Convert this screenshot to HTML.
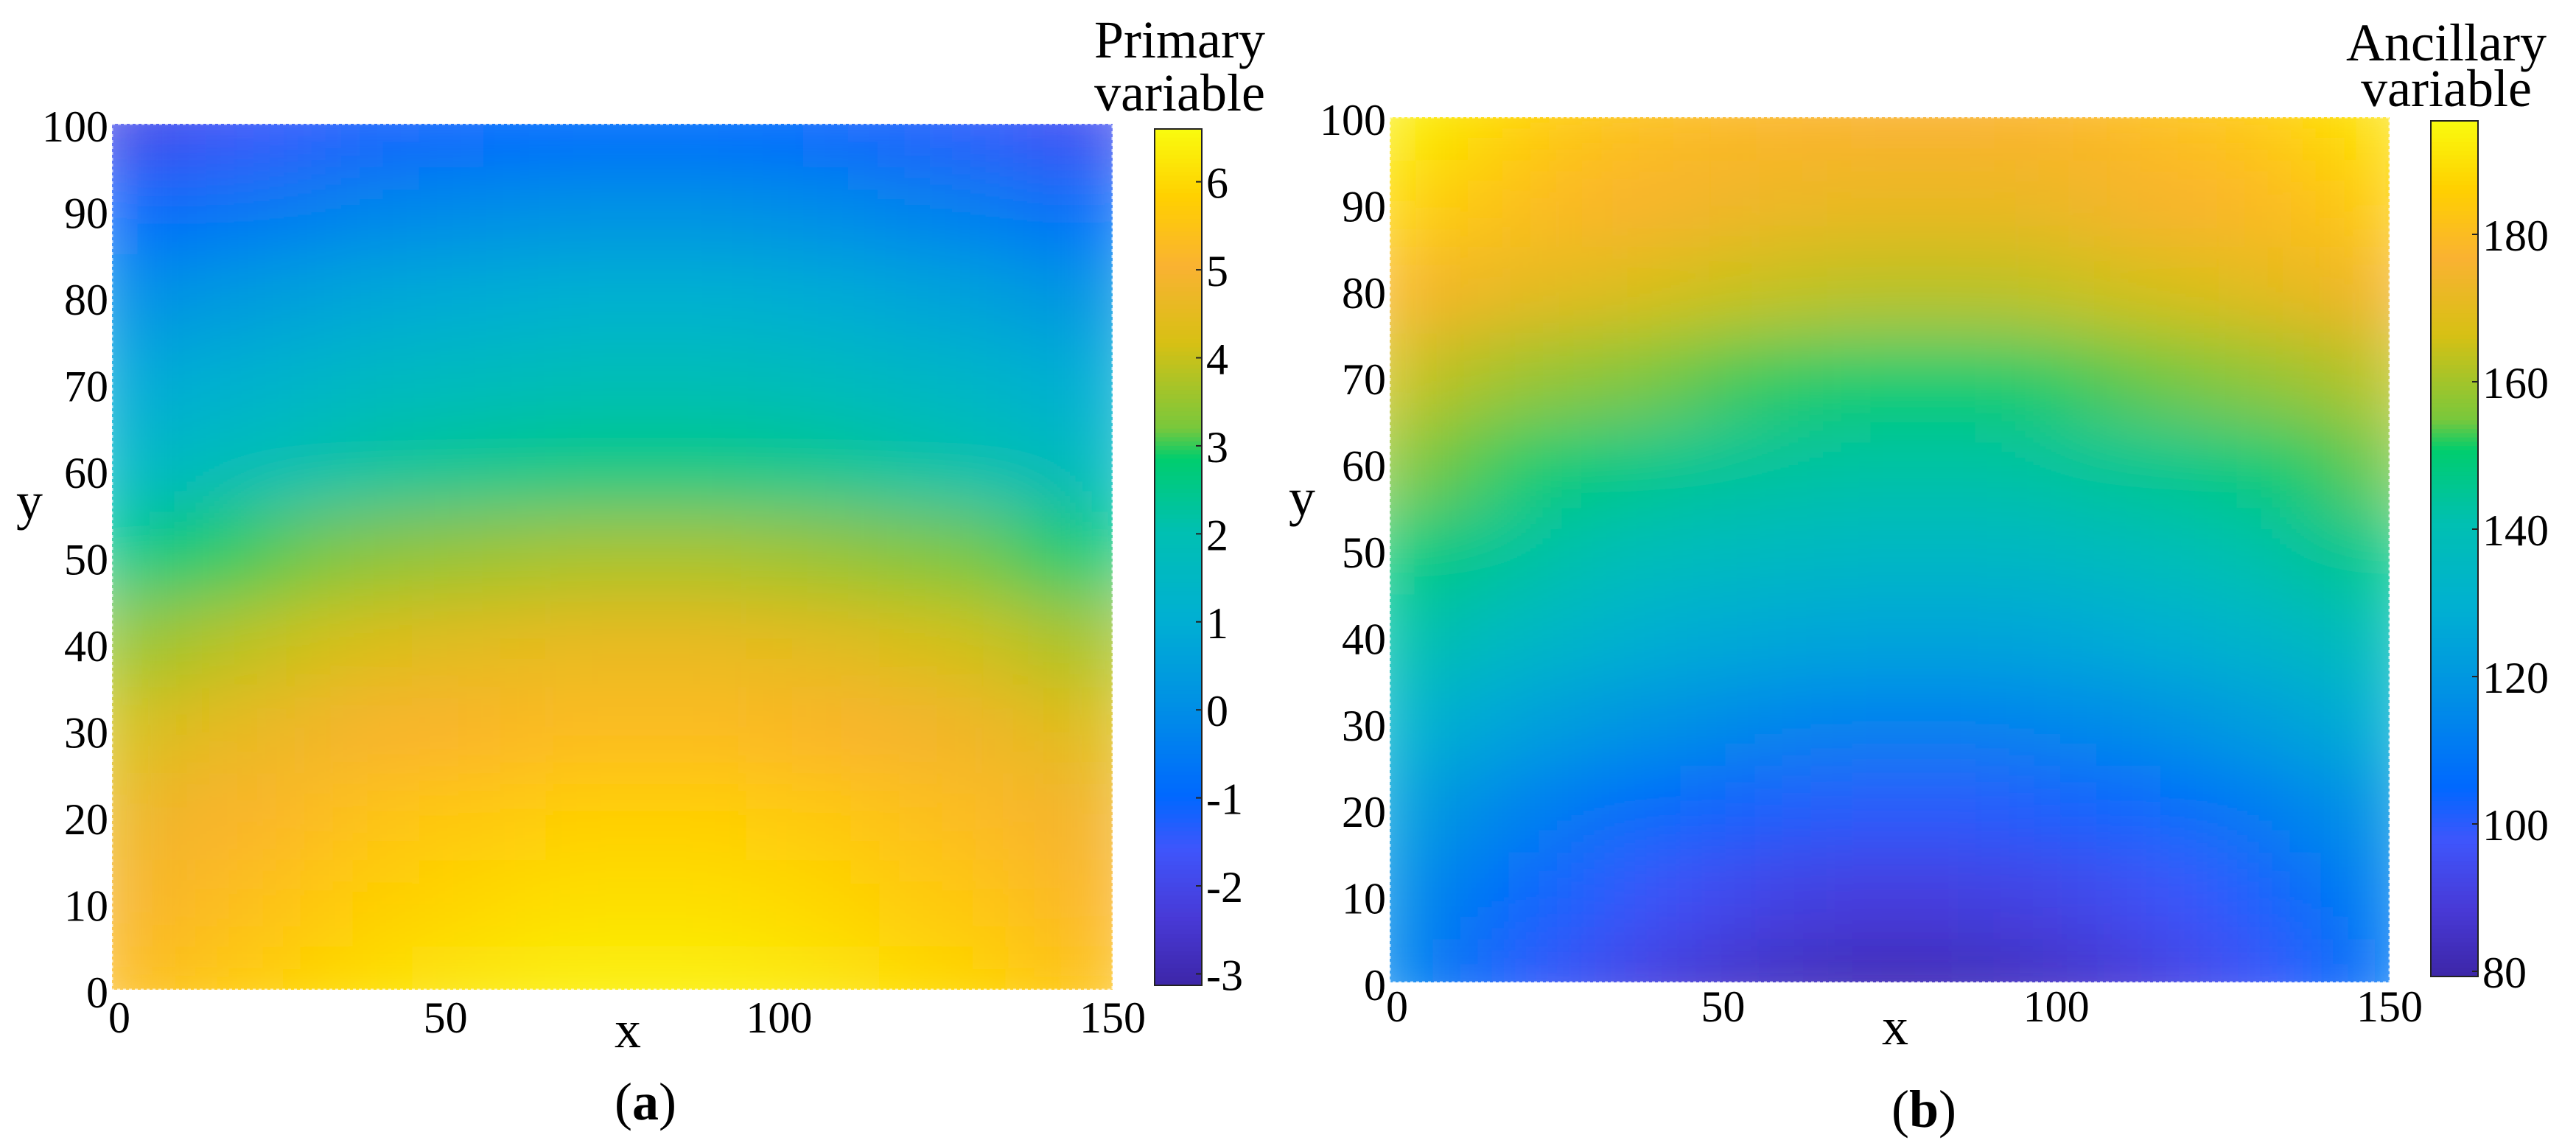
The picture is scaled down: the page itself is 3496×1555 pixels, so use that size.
<!DOCTYPE html>
<html><head><meta charset="utf-8">
<style>
html,body{margin:0;padding:0;background:#fff;}
svg{display:block;font-family:"Liberation Serif","DejaVu Serif",serif;}
</style></head>
<body>
<svg id="fig" width="3496" height="1555" viewBox="0 0 3496 1555" xmlns="http://www.w3.org/2000/svg">
<defs>
<filter id="smoothA" x="0" y="0" width="1" height="1" filterUnits="objectBoundingBox"><feGaussianBlur stdDeviation="58 46" edgeMode="duplicate"/></filter>
<filter id="smoothB" x="0" y="0" width="1" height="1" filterUnits="objectBoundingBox"><feGaussianBlur stdDeviation="58 46" edgeMode="duplicate"/></filter>
<clipPath id="clipA"><rect x="152" y="168" width="1358" height="1175"/></clipPath>
<clipPath id="clipB"><rect x="1886" y="159" width="1357" height="1174"/></clipPath>
</defs>
</svg>
<script>
// ---- data ----
const xGrid = [0,10,20,30,40,50,60,70,80,90,100,110,120,130,140,150];
const yGrid = [100,90,80,70,60,50,40,30,20,10,0];
const primaryValues = [
[-2.1,-1.8,-1.6,-1.4,-1.2,-1.1,-1.0,-0.9,-0.9,-0.9,-1.0,-1.1,-1.3,-1.4,-1.7,-1.9],
[-1.1,-0.8,-0.6,-0.4,-0.2,-0.1,0.0,0.1,0.1,0.1,0.0,-0.1,-0.3,-0.4,-0.7,-0.9],
[-0.1,0.2,0.4,0.6,0.8,0.9,1.0,1.1,1.1,1.1,1.0,0.9,0.7,0.6,0.3,0.1],
[0.7,1.0,1.2,1.4,1.6,1.7,1.8,1.9,1.9,1.9,1.8,1.7,1.5,1.4,1.1,0.9],
[1.4,1.7,1.9,2.1,2.3,2.4,2.5,2.6,2.6,2.6,2.5,2.4,2.2,2.1,1.8,1.6],
[2.5,2.8,3.0,3.2,3.4,3.5,3.6,3.7,3.7,3.7,3.6,3.5,3.3,3.2,2.9,2.7],
[3.4,3.7,3.9,4.1,4.3,4.4,4.5,4.6,4.6,4.6,4.5,4.4,4.2,4.1,3.8,3.6],
[4.1,4.4,4.6,4.8,5.0,5.1,5.2,5.3,5.3,5.3,5.2,5.1,4.9,4.8,4.5,4.3],
[4.6,4.9,5.1,5.3,5.5,5.6,5.7,5.8,5.8,5.8,5.7,5.6,5.4,5.3,5.0,4.8],
[4.9,5.2,5.4,5.6,5.8,5.9,6.0,6.1,6.1,6.1,6.0,5.9,5.7,5.6,5.3,5.1],
[5.2,5.5,5.7,5.9,6.1,6.2,6.3,6.4,6.4,6.4,6.3,6.2,6.0,5.9,5.6,5.4]
];
const ancillaryValues = [
[194,190,186,183,181,179,178,177,177,177,178,180,182,184,188,191],
[188,184,181,178,176,174,173,172,172,172,173,175,177,179,182,186],
[178,174,171,169,167,165,164,163,163,163,164,166,167,170,172,176],
[166,162,159,157,155,153,152,151,151,151,152,154,155,158,160,164],
[158,154,151,149,147,145,144,143,143,143,144,146,147,150,152,156],
[151,147,144,141,139,137,136,135,135,135,136,138,140,142,145,149],
[143,139,135,132,129,127,126,125,125,125,126,128,130,133,136,140],
[133,128,124,121,118,116,114,113,113,113,115,116,119,122,126,130],
[124,118,113,109,106,103,101,100,100,100,102,104,107,111,115,120],
[118,111,105,101,97,94,91,90,90,91,92,95,98,102,108,114],
[115,107,100,95,90,86,84,82,82,83,85,88,92,97,103,110]
];
const xTicks = [0,50,100,150];
const yTicks = [0,10,20,30,40,50,60,70,80,90,100];
const primaryCbarTicks = [-3,-2,-1,0,1,2,3,4,5,6];
const ancillaryCbarTicks = [80,100,120,140,160,180];
const primaryRange = [-3.13,6.6];
const ancillaryRange = [79.3,195.4];

// ---- colormap ----
const cmapStops = [
[0.00,[61,38,168]],[0.08,[72,58,215]],[0.16,[62,86,252]],[0.22,[0,104,255]],
[0.33,[0,145,228]],[0.43,[0,176,210]],[0.53,[0,192,178]],[0.615,[0,205,110]],
[0.65,[120,200,60]],[0.75,[215,192,20]],[0.84,[250,178,50]],[0.92,[255,208,0]],[1.00,[249,251,14]]
];
function cmap(t){
  t=Math.max(0,Math.min(1,t));
  for(let i=1;i<cmapStops.length;i++){
    if(t<=cmapStops[i][0]){
      const a=cmapStops[i-1],b=cmapStops[i],f=(t-a[0])/(b[0]-a[0]);
      const c=a[1].map((v,k)=>Math.round(v+(b[1][k]-v)*f));
      return `rgb(${c[0]},${c[1]},${c[2]})`;
    }
  }
  return 'rgb(249,251,14)';
}
const NS='http://www.w3.org/2000/svg';
const svg=document.getElementById('fig');
function mk(tag,attrs,parent){const e=document.createElementNS(NS,tag);for(const k in attrs)e.setAttribute(k,attrs[k]);(parent||svg).appendChild(e);return e;}

function panel(cfg){
  const P=cfg.plot;
  const xs=v=>P.x0+(v-0)/(150-0)*(P.x1-P.x0);
  const ys=v=>P.y1-(v-0)/(100-0)*(P.y1-P.y0);
  const norm=v=>(v-cfg.range[0])/(cfg.range[1]-cfg.range[0]);
  const g=mk('g',{'clip-path':`url(#${cfg.clip})`});
  
  
  const inner=mk('g',{filter:`url(#${cfg.filter})`},g);
  const cw=(P.x1-P.x0)/15, ch=(P.y1-P.y0)/10;
  cfg.values.forEach((row,ri)=>{
    row.forEach((v,ci)=>{
      const r=mk('rect',{x:(xs(xGrid[ci])-cw/2).toFixed(1),y:(ys(yGrid[ri])-ch/2).toFixed(1),width:(cw+1).toFixed(1),height:(ch+1).toFixed(1),fill:cmap(norm(v))},inner);
      
      
    });
  });
  const bd=mk('rect',{x:P.x0,y:P.y0,width:P.x1-P.x0,height:P.y1-P.y0,fill:'none',stroke:'#fff','stroke-width':3,'stroke-dasharray':'4 4',opacity:0.7});
  
  
  yTicks.forEach(v=>{
    const t=mk('text',{x:P.x0-5,y:ys(v)+4,'font-size':60,'text-anchor':'end','dominant-baseline':'central',fill:'#000'});
    t.textContent=v;
    
    
  });
  xTicks.forEach(v=>{
    const t=mk('text',{x:xs(v)+(v===0?10:0),y:cfg.xTickY,'font-size':60,'text-anchor':'middle','dominant-baseline':'central',fill:'#000'});
    t.textContent=v;
    
    
  });
  const xl=mk('text',{x:cfg.xLabel[0],y:cfg.xLabel[1],'font-size':72,'text-anchor':'middle','dominant-baseline':'central'});
  xl.textContent='x';
  
  
  const yl=mk('text',{x:cfg.yLabel[0],y:cfg.yLabel[1],'font-size':72,'text-anchor':'middle','dominant-baseline':'central'});
  yl.textContent='y';
  
  
  const C=cfg.cbar;
  const cg=mk('g',{});
  
  
  const n=200, h=(C.y1-C.y0)/n;
  for(let i=0;i<n;i++){
    const t=1-(i+0.5)/n;
    mk('rect',{x:C.x,y:(C.y0+i*h).toFixed(2),width:C.w,height:(h+0.6).toFixed(2),fill:cmap(t)},cg);
  }
  mk('rect',{x:C.x,y:C.y0,width:C.w,height:C.y1-C.y0,fill:'none',stroke:'#222','stroke-width':2},cg);
  const cy=v=>C.y1-(v-cfg.range[0])/(cfg.range[1]-cfg.range[0])*(C.y1-C.y0);
  cfg.cbarTicks.forEach(v=>{
    mk('line',{x1:C.x+C.w-8,x2:C.x+C.w,y1:cy(v),y2:cy(v),stroke:'#222','stroke-width':2},cg);
    const t=mk('text',{x:C.x+C.w+6,y:cy(v)+2,'font-size':60,'dominant-baseline':'central'},cg);
    t.textContent=v;
    
    
  });
  cfg.title.forEach((s,i)=>{
    const t=mk('text',{x:cfg.titlePos[0],y:cfg.titlePos[1]+i*cfg.titleGap,'font-size':72,'text-anchor':'middle'});
    t.textContent=s;
    
    
  });
  const cap=mk('text',{x:cfg.caption[0],y:cfg.caption[1],'font-size':72,'text-anchor':'middle','dominant-baseline':'central'});
  cap.innerHTML=`(<tspan font-weight="bold">${cfg.letter}</tspan>)`;
  
  
}
panel({id:'panel-a',letter:'a',values:primaryValues,range:primaryRange,cbarTicks:primaryCbarTicks,
  plot:{x0:152,x1:1510,y0:168,y1:1343},clip:'clipA',filter:'smoothA',
  cbar:{x:1567,w:64,y0:175,y1:1337},xTickY:1381,xLabel:[852,1397],yLabel:[40,680],
  title:['Primary','variable'],titlePos:[1601,78],titleGap:72,caption:[876,1495]});
panel({id:'panel-b',letter:'b',values:ancillaryValues,range:ancillaryRange,cbarTicks:ancillaryCbarTicks,
  plot:{x0:1886,x1:3243,y0:159,y1:1333},clip:'clipB',filter:'smoothB',
  cbar:{x:3299,w:64,y0:164,y1:1325},xTickY:1366,xLabel:[2572,1393],yLabel:[1767,675],
  title:['Ancillary','variable'],titlePos:[3320,82],titleGap:62,caption:[2611,1505]});
</script>
</body></html>
